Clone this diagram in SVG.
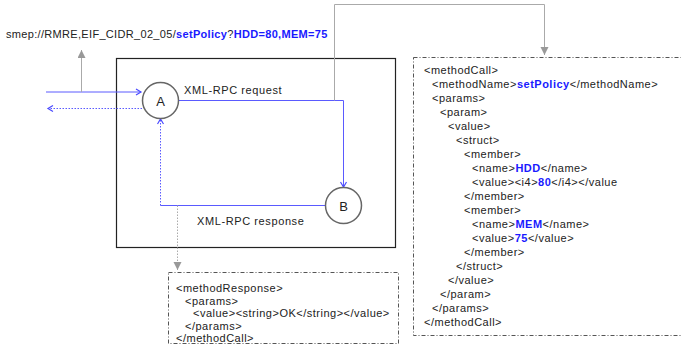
<svg xmlns="http://www.w3.org/2000/svg" width="681" height="353" viewBox="0 0 681 353">
  <defs>
    <marker id="blueArrow" markerWidth="8" markerHeight="8" refX="6" refY="4" orient="auto" markerUnits="userSpaceOnUse">
      <path d="M1,1 L6,4 L1,7" fill="none" stroke="#4a4aff" stroke-width="1.2"/>
    </marker>
    <marker id="grayArrow" markerWidth="10" markerHeight="10" refX="8" refY="4" orient="auto" markerUnits="userSpaceOnUse">
      <path d="M0,0 L8,4 L0,8 Z" fill="#999"/>
    </marker>
  </defs>
  <style>
    text { font-family: "Liberation Sans", Arial, sans-serif; font-size: 11px; fill: #222; }
    .url { letter-spacing: 0.32px; }
    .label { letter-spacing: 0.6px; }
    .code { font-size: 11px; letter-spacing: 0.5px; }
    .hl { fill: #1a1aff; font-weight: bold; }
    .blue { fill: none; stroke: #5a5aff; stroke-width: 1; }
    .dot { stroke-dasharray: 1.5,1.5; }
    .gray { fill: none; stroke: #aaa; stroke-width: 1; }
    .node circle { fill: #fff; stroke: #666; stroke-width: 1.5; }
    .node text { font-size: 13px; text-anchor: middle; }
    .dashbox { fill: #fff; stroke: #555; stroke-width: 1; stroke-dasharray: 4,2,1,2; }
  </style>

  <rect width="681" height="353" fill="#fff"/>

  <!-- request URL -->
  <text id="url" class="url" x="6" y="38">smep://RMRE,EIF_CIDR_02_05/<tspan class="hl">setPolicy</tspan><tspan fill="#223">?</tspan><tspan class="hl">HDD=80,MEM=75</tspan></text>

  <!-- server boundary -->
  <g id="server">
    <rect x="116.5" y="58.5" width="279" height="189" fill="none" stroke="#222" stroke-width="1.2"/>
  </g>

  <!-- connectors -->
  <g id="connectors">
    <!-- incoming call into A -->
    <line class="blue" x1="46" y1="92" x2="141" y2="92" marker-end="url(#blueArrow)"/>
    <!-- URL tap -->
    <line class="gray" x1="81.5" y1="92" x2="81.5" y2="50" marker-end="url(#grayArrow)"/>
    <!-- result back out of A -->
    <line class="blue dot" x1="142" y1="108.5" x2="48" y2="108.5" marker-end="url(#blueArrow)"/>
    <!-- A to B request -->
    <polyline class="blue" points="178,100.5 343.5,100.5 343.5,187" marker-end="url(#blueArrow)"/>
    <!-- request payload tap -->
    <polyline class="gray" points="334.5,100.5 334.5,4.5 544.5,4.5 544.5,55" marker-end="url(#grayArrow)"/>
    <!-- B to A response -->
    <line class="blue" x1="325" y1="205.5" x2="160.5" y2="205.5"/>
    <line class="blue dot" x1="160.5" y1="205.5" x2="160.5" y2="119" marker-end="url(#blueArrow)"/>
    <!-- response payload tap -->
    <line class="gray dot" x1="177.5" y1="205.5" x2="177.5" y2="270" marker-end="url(#grayArrow)"/>
  </g>

  <text class="label" x="184" y="94">XML-RPC request</text>
  <text class="label" x="197" y="225">XML-RPC response</text>

  <g id="nodeA" class="node">
    <circle cx="160.5" cy="100.5" r="18"/>
    <text x="160.5" y="105.5">A</text>
  </g>
  <g id="nodeB" class="node">
    <circle cx="343.5" cy="205.5" r="18"/>
    <text x="343.5" y="210.5">B</text>
  </g>

  <!-- methodCall payload -->
  <g id="callPayload">
    <rect class="dashbox" x="413.5" y="57.5" width="290" height="278"/>
    <text class="code" x="424" y="74">&lt;methodCall&gt;</text>
    <text class="code" x="432" y="88">&lt;methodName&gt;<tspan class="hl">setPolicy</tspan>&lt;/methodName&gt;</text>
    <text class="code" x="432" y="102">&lt;params&gt;</text>
    <text class="code" x="440" y="116">&lt;param&gt;</text>
    <text class="code" x="448" y="130">&lt;value&gt;</text>
    <text class="code" x="456" y="144">&lt;struct&gt;</text>
    <text class="code" x="464" y="158">&lt;member&gt;</text>
    <text class="code" x="472" y="172">&lt;name&gt;<tspan class="hl">HDD</tspan>&lt;/name&gt;</text>
    <text class="code" x="472" y="186">&lt;value&gt;&lt;i4&gt;<tspan class="hl">80</tspan>&lt;/i4&gt;&lt;/value</text>
    <text class="code" x="464" y="200">&lt;/member&gt;</text>
    <text class="code" x="464" y="214">&lt;member&gt;</text>
    <text class="code" x="472" y="228">&lt;name&gt;<tspan class="hl">MEM</tspan>&lt;/name&gt;</text>
    <text class="code" x="472" y="242">&lt;value&gt;<tspan class="hl">75</tspan>&lt;/value&gt;</text>
    <text class="code" x="464" y="256">&lt;/member&gt;</text>
    <text class="code" x="456" y="270">&lt;/struct&gt;</text>
    <text class="code" x="448" y="284">&lt;/value&gt;</text>
    <text class="code" x="440" y="298">&lt;/param&gt;</text>
    <text class="code" x="432" y="312">&lt;/params&gt;</text>
    <text class="code" x="424" y="326">&lt;/methodCall&gt;</text>
  </g>

  <!-- methodResponse payload -->
  <g id="responsePayload">
    <rect class="dashbox" x="168.5" y="272.5" width="230" height="71"/>
    <text class="code" x="176" y="292">&lt;methodResponse&gt;</text>
    <text class="code" x="185" y="304.5">&lt;params&gt;</text>
    <text class="code" x="193" y="317">&lt;value&gt;&lt;string&gt;OK&lt;/string&gt;&lt;/value&gt;</text>
    <text class="code" x="185" y="329.5">&lt;/params&gt;</text>
    <text class="code" x="176" y="342">&lt;/methodCall&gt;</text>
  </g>
</svg>
